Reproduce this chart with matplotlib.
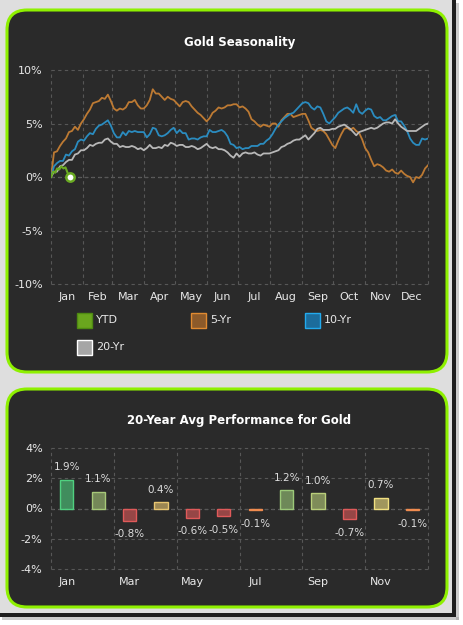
import numpy as np
import matplotlib
matplotlib.use("Agg")
import matplotlib.pyplot as plt
from matplotlib.patches import FancyBboxPatch, Rectangle
from matplotlib.colors import LinearSegmentedColormap, Normalize

months = ['Jan', 'Feb', 'Mar', 'Apr', 'May', 'Jun',
          'Jul', 'Aug', 'Sep', 'Oct', 'Nov', 'Dec']
month_days = [31, 28, 31, 30, 31, 30, 31, 31, 30, 31, 30, 31]

# YTD path (day of year, % change)
ytd_days = [0, 2, 4, 6, 8, 10, 12, 14, 16, 18]
ytd = [0.0, 0.5, 0.4, 0.8, 0.7, 1.0, 0.8, 0.9, 0.4, 0.0]

# seasonal averages, evenly spaced over the year
yr5 = [0.0, 2.3, 2.4, 2.9, 3.3, 3.6, 4.2, 4.3, 4.7, 4.4,
       5.0, 5.4, 5.9, 6.3, 6.9, 7.0, 7.1, 7.4, 7.3, 7.7,
       7.1, 6.4, 6.2, 6.4, 6.3, 6.5, 7.0, 7.0, 7.2, 6.7,
       6.4, 6.4, 6.7, 7.2, 8.2, 7.8, 7.8, 7.5, 7.2, 7.5,
       7.3, 7.2, 6.9, 6.6, 7.0, 7.1, 7.0, 6.6, 6.3, 6.0,
       5.8, 5.5, 5.2, 5.5, 6.0, 6.2, 6.5, 6.4, 6.5, 6.7,
       6.7, 6.8, 6.8, 6.5, 6.6, 6.4, 6.1, 5.4, 5.2, 4.9,
       4.7, 4.9, 4.8, 4.7, 5.0, 5.0, 4.7, 5.3, 5.6, 5.9,
       5.9, 5.6, 5.7, 5.8, 5.9, 5.9, 5.3, 4.6, 4.4, 4.3,
       4.4, 4.3, 4.0, 3.5, 3.0, 2.7, 3.4, 4.0, 4.5, 4.6,
       4.4, 4.6, 4.3, 4.1, 3.5, 2.7, 2.3, 1.6, 1.0, 1.2,
       1.1, 0.9, 0.6, 0.5, 0.7, 0.4, 0.3, 0.6, 0.3, 0.1,
       0.0, -0.5, 0.0, -0.1, 0.2, 0.8, 1.1]

yr10 = [0.0, 1.0, 1.3, 1.5, 1.5, 2.1, 2.0, 2.4, 2.6, 3.3,
        3.5, 3.4, 3.8, 4.1, 4.0, 4.5, 4.8, 4.9, 5.1, 5.3,
        4.8, 4.1, 3.7, 3.7, 4.2, 3.9, 4.3, 4.2, 4.3, 4.2,
        4.2, 4.2, 3.7, 4.0, 4.6, 4.5, 3.9, 3.8, 3.9, 4.1,
        4.4, 4.6, 4.1, 4.4, 4.1, 4.1, 3.5, 3.6, 3.6, 3.5,
        3.7, 3.8, 3.8, 4.4, 4.2, 4.2, 4.3, 4.4, 4.2, 3.8,
        3.1, 3.0, 2.7, 2.8, 2.6, 2.7, 2.7, 2.9, 2.9, 2.9,
        3.1, 3.1, 3.4, 3.6, 4.0, 4.5, 4.9, 5.2, 5.5, 5.7,
        5.9, 6.0, 6.3, 6.6, 6.9, 7.0, 6.9, 6.5, 6.3, 6.6,
        6.5, 5.9, 5.2, 5.0, 5.3, 5.6, 6.0, 6.2, 6.4, 6.5,
        6.3, 6.0, 6.8, 6.1, 5.9, 6.2, 6.4, 6.3, 5.7, 5.5,
        5.6, 5.3, 5.3, 5.5, 5.7, 5.8, 5.2, 5.2, 4.8, 4.3,
        3.6, 3.2, 3.0, 3.0, 3.6, 3.5, 3.6]

yr20 = [0.0, 0.5, 0.5, 1.0, 1.1, 1.4, 1.6, 1.6, 2.1, 2.2,
        2.5, 2.5, 2.7, 3.0, 2.9, 3.1, 3.2, 3.2, 3.5, 3.6,
        3.3, 3.1, 3.1, 2.8, 2.9, 2.8, 2.8, 2.9, 2.8, 2.6,
        2.7, 2.5, 2.7, 3.0, 2.7, 2.7, 2.8, 2.7, 3.0, 2.9,
        3.2, 3.1, 2.9, 3.0, 3.0, 2.8, 2.8, 2.9, 2.8, 2.6,
        2.7, 2.9, 3.1, 2.8, 2.7, 2.8, 2.6, 2.6, 2.5, 2.3,
        2.0, 1.8, 2.2, 1.9, 2.2, 2.3, 2.2, 2.2, 2.3, 2.1,
        2.0, 2.2, 2.2, 2.2, 2.3, 2.4, 2.5, 2.8, 2.9, 3.1,
        3.2, 3.4, 3.5, 3.5, 3.7, 3.9, 3.5, 3.8, 4.1, 4.5,
        4.6, 4.4, 4.4, 4.4, 4.5, 4.5, 4.7, 4.8, 4.9, 4.7,
        4.5, 4.2, 3.9, 4.2, 4.3, 4.4, 4.5, 4.6, 4.5, 4.6,
        4.8, 5.0, 5.1, 5.1, 5.0, 5.4, 5.0, 4.7, 4.5, 4.3,
        4.3, 4.3, 4.3, 4.5, 4.7, 4.9, 5.0]

# 20-year average monthly performance (%)
avg20 = [1.9, 1.1, -0.8, 0.4, -0.6, -0.5, -0.1, 1.2, 1.0, -0.7, 0.7, -0.1]

PANEL = '#2a2a2a'
LIME = '#8ef000'
TXT = '#e8e8e8'
GRID = '#575757'

fig = plt.figure(figsize=(4.63, 6.25), dpi=100, facecolor='white')
inch = fig.dpi_scale_trans

# page frame
fig.add_artist(Rectangle((0, 0.12), 4.52, 6.13, transform=inch,
                         fc='#dedede', ec='none', zorder=-20))
fig.add_artist(Rectangle((4.52, 0.08), 0.04, 6.17, transform=inch,
                         fc='#1e1e1e', ec='none', zorder=-19))
fig.add_artist(Rectangle((0.0, 0.08), 4.56, 0.04, transform=inch,
                         fc='#1e1e1e', ec='none', zorder=-19))
fig.add_artist(Rectangle((4.56, 0.05), 0.03, 6.17, transform=inch,
                         fc='#9a9a9a', ec='none', alpha=0.5, zorder=-19))
fig.add_artist(Rectangle((0.02, 0.05), 4.57, 0.03, transform=inch,
                         fc='#9a9a9a', ec='none', alpha=0.5, zorder=-19))

# rounded panels
for (x0, y0, w, h) in [(0.07, 2.53, 4.40, 3.62), (0.07, 0.18, 4.40, 2.18)]:
    fig.add_artist(FancyBboxPatch((x0, y0), w, h, transform=inch,
                                  boxstyle='round,pad=0,rounding_size=0.2',
                                  fc=PANEL, ec=LIME, lw=2.2, zorder=-10))


def style_axes(ax):
    ax.set_facecolor('none')
    for s in ax.spines.values():
        s.set_visible(False)
    ax.tick_params(which='both', length=0, colors=TXT, labelsize=8)
    ax.tick_params(axis='y', pad=6)
    ax.tick_params(axis='x', which='both', pad=6)
    ax.grid(which='major', color=GRID, lw=0.8, ls=(0, (3, 3)))
    for ln in ax.get_xgridlines() + ax.get_ygridlines():
        ln.set_clip_on(False)


# ---- top chart: seasonality lines
ax1 = fig.add_axes([0.1102, 0.5456, 0.8143, 0.3424])
starts = np.concatenate([[0], np.cumsum(month_days)])
mids = starts[:-1] + np.array(month_days) / 2
ax1.set_xlim(0, 365)
ax1.set_ylim(-10, 10)
ax1.set_xticks(starts, [''] * len(starts))
ax1.set_xticks(mids, months, minor=True)
ax1.set_yticks([-10, -5, 0, 5, 10], ['-10%', '-5%', '0%', '5%', '10%'])
style_axes(ax1)
ax1.axhline(0, color='#a0a0a0', lw=0.8, ls=(0, (3, 3)), zorder=1)

ax1.plot(np.linspace(0, 365, len(yr5)), yr5, color='#bd7a33', lw=1.3, zorder=3)
ax1.plot(np.linspace(0, 365, len(yr10)), yr10, color='#2a8cc0', lw=1.3, zorder=3)
ax1.plot(np.linspace(0, 365, len(yr20)), yr20, color='#b8b8b8', lw=1.3, zorder=3)
ax1.plot(ytd_days, ytd, color='#6aaa22', lw=1.5, zorder=4)
ax1.plot(ytd_days[-1], ytd[-1], 'o', ms=6, mfc='white', mec='#6aaa22',
         mew=1.8, zorder=5, clip_on=False)
ax1.set_title('Gold Seasonality', color='white', fontsize=8.5,
              fontweight='bold', pad=17)

# legend drawn by hand to match the 3-column layout
legend_items = [('YTD', '#6aa61e', '#4e8a12'),
                ('5-Yr', '#8c5a2a', '#e08a30'),
                ('10-Yr', '#1c6c9c', '#22aaee'),
                ('20-Yr', '#a6a6a6', '#ffffff')]
for i, (name, fc, ec) in enumerate(legend_items):
    col, row = i % 3, i // 3
    x = 0.77 + 1.14 * col
    y = 2.97 - 0.27 * row
    fig.add_artist(Rectangle((x, y), 0.15, 0.15, transform=inch,
                             fc=fc, ec=ec, lw=1.0))
    fig.text(x + 0.19, y + 0.075, name, transform=inch, color=TXT,
             fontsize=8, va='center', ha='left')

# ---- bottom chart: monthly average bars
ax2 = fig.add_axes([0.1102, 0.0896, 0.8143, 0.1936])
ax2.set_xlim(-0.5, 11.5)
ax2.set_ylim(-4, 4)
ax2.set_xticks(np.arange(-0.5, 12, 2), [''] * 7)
ax2.set_xticks(np.arange(0, 12, 2), months[::2], minor=True)
ax2.set_yticks([-4, -2, 0, 2, 4], ['-4%', '-2%', '0%', '2%', '4%'])
style_axes(ax2)
ax2.axhline(0, color='#a0a0a0', lw=0.8, ls=(0, (3, 3)), zorder=1)

cmap = LinearSegmentedColormap.from_list('perf', [
    (0.0, '#e05a5a'), (0.12, '#e05a5a'), (0.26, '#f08c50'),
    (0.44, '#e8c470'), (0.56, '#f0e080'), (0.70, '#a8c878'),
    (1.0, '#50d080')])
norm = Normalize(vmin=min(avg20), vmax=max(avg20))
xs = np.arange(len(avg20))
for x, v in zip(xs, avg20):
    c = cmap(norm(v))
    ax2.bar(x, v, width=0.42, color=c, alpha=0.6, zorder=3)
    ax2.bar(x, v, width=0.42, fill=False, edgecolor=c, lw=1.0, zorder=4)
    ax2.annotate(f'{v:.1f}%', (x, v), xytext=(0, 9 if v > 0 else -10),
                 textcoords='offset points', ha='center', va='center',
                 color='#dcdcdc', fontsize=7.5)
ax2.set_title('20-Year Avg Performance for Gold', color='white', fontsize=8.5,
              fontweight='bold', pad=17)

fig.savefig('out.png', dpi=100, facecolor=fig.get_facecolor())
